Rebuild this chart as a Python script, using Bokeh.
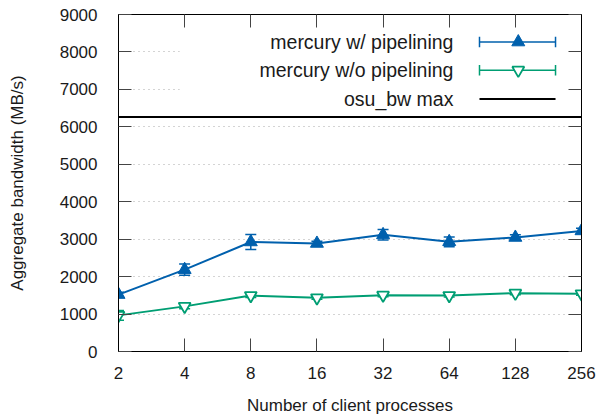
from bokeh.plotting import figure
from bokeh.models import (Range1d, LinearAxis, LogAxis, FixedTicker, PrintfTickFormatter,
                          Whisker, TeeHead, ColumnDataSource, BoxAnnotation, Span)
from bokeh.core.properties import value
from bokeh.embed import file_html
from bokeh.resources import INLINE

# ---- data ----
procs = [2, 4, 8, 16, 32, 64, 128, 256]
pipe_mean = [1520, 2185, 2925, 2885, 3115, 2930, 3045, 3220]
pipe_err = [60, 150, 200, 60, 140, 130, 70, 70]
nopipe_mean = [965, 1205, 1495, 1435, 1505, 1495, 1558, 1540]
nopipe_err = [130, 60, 50, 40, 40, 40, 40, 40]
osu_bw_max = 6260
y_ticks = [0, 1000, 2000, 3000, 4000, 5000, 6000, 7000, 8000, 9000]
labels = ["mercury w/ pipelining", "mercury w/o pipelining", "osu_bw max"]

BLUE = "#0060ad"
GREEN = "#009e73"
FONT = "Liberation Sans"
TXT = "#1a1a1a"

p = figure(width=597, height=417, output_backend="svg", toolbar_location=None,
           x_axis_type="log", x_range=Range1d(2, 256), y_range=Range1d(0, 9000),
           min_border_left=118, min_border_right=16, min_border_top=14, min_border_bottom=64,
           x_axis_label="Number of client processes",
           y_axis_label="Aggregate bandwidth (MB/s)")
p.outline_line_color = "black"
p.outline_line_width = 1
p.xgrid.visible = False
p.ygrid.ticker = FixedTicker(ticks=y_ticks)
p.ygrid.grid_line_color = "#a8a8a8"
p.ygrid.grid_line_dash = "1 4"
p.ygrid.grid_line_width = 1

def style_axis(ax, show_labels=True):
    ax.major_tick_in = 13
    ax.major_tick_out = 0
    ax.minor_tick_in = 0
    ax.minor_tick_out = 0
    ax.axis_line_color = "black"
    ax.major_tick_line_color = "#444444"
    ax.major_label_text_font = FONT
    ax.major_label_text_font_size = "17px"
    ax.major_label_text_color = TXT
    ax.axis_label_text_font = FONT
    ax.axis_label_text_font_size = "17px"
    ax.axis_label_text_font_style = "normal"
    ax.axis_label_text_color = TXT
    if not show_labels:
        ax.major_label_text_font_size = "0px"
        ax.major_label_text_alpha = 0

xaxis = p.xaxis[0]
xaxis.ticker = FixedTicker(ticks=procs)
xaxis.formatter = PrintfTickFormatter(format="%d")
style_axis(xaxis)
xaxis.major_label_standoff = 15
xaxis.axis_label_standoff = 14

yaxis = p.yaxis[0]
yaxis.ticker = FixedTicker(ticks=y_ticks)
style_axis(yaxis)
yaxis.major_label_standoff = 21
yaxis.axis_label_standoff = 30

top_ax = LogAxis(ticker=FixedTicker(ticks=procs))
style_axis(top_ax, False)
top_ax.major_label_standoff = 0
p.add_layout(top_ax, "above")
right_ax = LinearAxis(ticker=FixedTicker(ticks=y_ticks))
style_axis(right_ax, False)
right_ax.major_label_standoff = 0
p.add_layout(right_ax, "right")

# key background hides grid
leg_bg = BoxAnnotation(left=3.8, right=256, bottom=6450, top=9000,
                       fill_color="white", fill_alpha=1.0, line_alpha=0, level="underlay")
p.add_layout(leg_bg)

# osu_bw max line
p.add_layout(Span(location=osu_bw_max, dimension="width", line_color="black", line_width=2))

src1 = ColumnDataSource(dict(x=procs, y=pipe_mean,
                             lo=[m - e for m, e in zip(pipe_mean, pipe_err)],
                             hi=[m + e for m, e in zip(pipe_mean, pipe_err)]))
src2 = ColumnDataSource(dict(x=procs, y=nopipe_mean,
                             lo=[m - e for m, e in zip(nopipe_mean, nopipe_err)],
                             hi=[m + e for m, e in zip(nopipe_mean, nopipe_err)]))

for src, col in ((src1, BLUE), (src2, GREEN)):
    w = Whisker(source=src, base="x", lower="lo", upper="hi", line_color=col, line_width=1.5,
                lower_head=TeeHead(size=11, line_color=col, line_width=1.5),
                upper_head=TeeHead(size=11, line_color=col, line_width=1.5))
    p.add_layout(w)

p.line("x", "y", source=src1, color=BLUE, line_width=2)
p.scatter("x", "y", source=src1, marker="triangle", size=13, fill_color=BLUE, line_color=BLUE)
p.line("x", "y", source=src2, color=GREEN, line_width=2)
p.scatter("x", "y", source=src2, marker="inverted_triangle", size=12, fill_color="white",
          line_color=GREEN, line_width=1.8)

# gnuplot-style key (text right-aligned, sample on the right)
leg_text_x = 66.9
leg_x0, leg_xm, leg_x1 = 87.9, 132, 195
leg_y = [8264, 7513, 6743]
p.text(x=[leg_text_x] * 3, y=leg_y, text=labels, text_align="right", text_baseline="middle",
       text_font=value(FONT), text_font_size="19.5px", text_color=TXT)
leg_cols = [BLUE, GREEN]
for i, col in enumerate(leg_cols):
    p.segment(x0=[leg_x0], y0=[leg_y[i]], x1=[leg_x1], y1=[leg_y[i]], line_color=col, line_width=1.5)
    ls = ColumnDataSource(dict(x=[leg_x0, leg_x1], lo=[leg_y[i] - 140] * 2, hi=[leg_y[i] + 140] * 2))
    p.segment(x0="x", y0="lo", x1="x", y1="hi", source=ls, line_color=col, line_width=1.5)
p.scatter([leg_xm], [leg_y[0]], marker="triangle", size=13, fill_color=BLUE, line_color=BLUE)
p.scatter([leg_xm], [leg_y[1]], marker="inverted_triangle", size=12, fill_color="white",
          line_color=GREEN, line_width=1.8)
p.segment(x0=[leg_x0], y0=[leg_y[2]], x1=[leg_x1], y1=[leg_y[2]], line_color="black", line_width=2)

open("out.html", "w").write(file_html(p, INLINE))
